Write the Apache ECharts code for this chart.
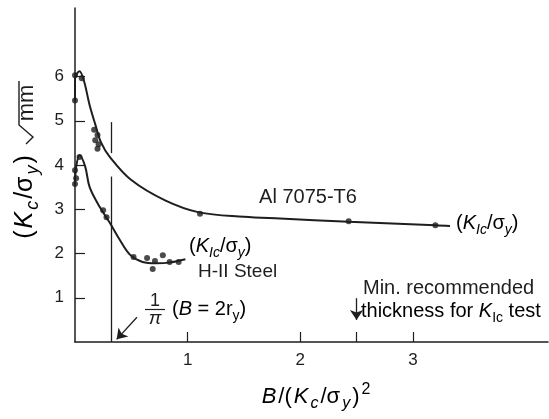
<!DOCTYPE html>
<html lang="en">
<head>
    <meta charset="UTF-8">
    <title>Kc vs thickness</title>
    <script src="https://cdn.jsdelivr.net/npm/echarts@6/dist/echarts.min.js"></script>
    <style>
        html, body { margin: 0; padding: 0; background: #fff; }
        #container { width: 549px; height: 419px; }
    </style>
</head>
<body>
<div id="container"></div>
<script type="text/javascript">
    // curves (x = B/(Kc/sy)^2, y = Kc/sy in sqrt(mm))
    let alCurve = [[0,5.45],[0,5.95],[0.04,6.12],[0.08,5.9],[0.13,5.35],[0.18,4.92],[0.23,4.52],[0.31,4.18],
        [0.5,3.66],[0.8,3.2],[1.1,2.93],[1.5,2.83],[1.82,2.79],[2.43,2.72],[3.2,2.64],[3.33,2.62]];
    let alPoints = [[0,5.46],[0,6.03],[0.06,5.96],[0.17,4.8],[0.2,4.68],[0.18,4.56],[0.21,4.47],[0.2,4.37],
        [1.11,2.9],[2.43,2.73],[3.2,2.64]];
    let steelCurve = [[0,3.55],[0.01,3.95],[0.04,4.22],[0.09,3.97],[0.13,3.5],[0.22,3.05],[0.31,2.69],[0.4,2.3],
        [0.49,1.97],[0.6,1.81],[0.72,1.78],[0.85,1.8],[0.98,1.87]];
    let steelPoints = [[0,3.88],[0.01,3.7],[0,3.57],[0.04,4.18],[0.25,2.98],[0.28,2.82],[0.52,1.92],[0.64,1.9],
        [0.71,1.83],[0.69,1.65],[0.78,1.96],[0.84,1.81],[0.92,1.81]];

    let xTicks = [1, 2, 2.5, 3];
    let xLabels = [1, 2, 3];
    let yTicks = [1, 2, 3, 4, 5, 6];

    // annotation lines
    let invPi = 1 / Math.PI;
    let piLineTop = [[invPi, 4.97], [invPi, 4.27]];
    let piLineBottom = [[invPi, 3.74], [invPi, 0]];
    let piArrow = [[0.55, 0.56], [0.37, 0.06]];
    let minArrow = [[2.5, 0.99], [2.5, 0.5]];

    const FONT = 'Liberation Sans, Arial, sans-serif';
    const INK = '#1e1e1e';

    function sub(size, gap) {
        let s = Math.round(size * 0.72);
        let pad = [0, gap || 0, 0, gap || 0];
        return {
            i: { fontFamily: FONT, fontSize: size, fontStyle: 'italic', color: INK, lineHeight: size + 8, padding: pad },
            n: { fontFamily: FONT, fontSize: size, color: INK, lineHeight: size + 8, padding: pad },
            si: { fontFamily: FONT, fontSize: s, fontStyle: 'italic', color: INK, verticalAlign: 'bottom', lineHeight: s, padding: pad },
            sn: { fontFamily: FONT, fontSize: s, color: INK, verticalAlign: 'bottom', lineHeight: s, padding: pad },
            sup: { fontFamily: FONT, fontSize: s, color: INK, verticalAlign: 'top', lineHeight: s, padding: pad }
        };
    }
    const kicText = '{n|(}{i|K}{si|Ic}{n|/σ}{si|y}{n|)}';

    let dom = document.getElementById("container");
    let myChart = echarts.init(dom);

    let option = {
        animation: false,
        grid: { left: 75, right: 1, top: 8, bottom: 77, outerBoundsMode: 'none' },
        xAxis: {
            type: 'value',
            min: 0,
            max: 4.2,
            axisLine: { lineStyle: { color: INK, width: 1.5 } },
            axisTick: { inside: true, length: 10, customValues: xTicks, lineStyle: { color: INK, width: 1.2 } },
            axisLabel: { customValues: xLabels, color: INK, fontFamily: FONT, fontSize: 17, margin: 10 },
            splitLine: { show: false }
        },
        yAxis: {
            type: 'value',
            min: 0,
            max: 7.55,
            axisLine: { show: true, lineStyle: { color: INK, width: 1.5 } },
            axisTick: { show: true, inside: true, length: 10, customValues: yTicks, lineStyle: { color: INK, width: 1.2 } },
            axisLabel: { customValues: yTicks, color: INK, fontFamily: FONT, fontSize: 17, margin: 11 },
            splitLine: { show: false }
        },
        graphic: [
            // y axis title, written bottom to top
            { type: 'text', x: 25, y: 197, rotation: Math.PI / 2,
              style: { text: '{n|(}{i|K}{si|c}{n|/σ}{si|y}{n|)}', rich: sub(25, 1), align: 'center', verticalAlign: 'middle' } },
            { type: 'text', x: 26.5, y: 103, rotation: Math.PI / 2,
              style: { text: 'mm', fontFamily: FONT, fontSize: 22, fill: INK, align: 'center', verticalAlign: 'middle' } },
            { type: 'polyline', shape: { points: [[26, 144], [28, 142], [33, 137], [19, 125], [19, 81]] },
              style: { stroke: INK, lineWidth: 1.4, fill: null } },
            { type: 'text', x: 316, y: 397,
              style: { text: '{i|B}{n|/(}{i|K}{si|c}{n|/σ}{si|y}{n|)}{sup|2}', rich: sub(22, 1), align: 'center', verticalAlign: 'middle' } },
            { type: 'text', x: 308, y: 197,
              style: { text: 'Al 7075-T6', fontFamily: FONT, fontSize: 20, fill: INK, align: 'center', verticalAlign: 'middle' } },
            { type: 'text', x: 456, y: 223,
              style: { text: kicText, rich: sub(20), align: 'left', verticalAlign: 'middle' } },
            { type: 'text', x: 189, y: 246,
              style: { text: kicText, rich: sub(20), align: 'left', verticalAlign: 'middle' } },
            { type: 'text', x: 198, y: 272,
              style: { text: 'H-II Steel', fontFamily: FONT, fontSize: 19, fill: INK, align: 'left', verticalAlign: 'middle' } },
            { type: 'text', x: 155, y: 301,
              style: { text: '1', fontFamily: FONT, fontSize: 18, fill: INK, align: 'center', verticalAlign: 'middle' } },
            { type: 'line', shape: { x1: 145, y1: 309.5, x2: 165, y2: 309.5 }, style: { stroke: INK, lineWidth: 1.2 } },
            { type: 'text', x: 155, y: 319,
              style: { text: 'π', fontFamily: FONT, fontSize: 19, fontStyle: 'italic', fill: INK, align: 'center', verticalAlign: 'middle' } },
            { type: 'text', x: 172, y: 309,
              style: { text: '{n|(}{i|B}{n| = 2r}{sn|y}{n|)}', rich: sub(20), align: 'left', verticalAlign: 'middle' } },
            { type: 'text', x: 363, y: 288,
              style: { text: 'Min. recommended', fontFamily: FONT, fontSize: 20, fill: INK, align: 'left', verticalAlign: 'middle' } },
            { type: 'text', x: 361, y: 311,
              style: { text: '{n|thickness for }{i|K}{sn|Ic}{n| test}', rich: sub(20), align: 'left', verticalAlign: 'middle' } }
        ],
        series: [
            {
                name: 'Al 7075-T6',
                type: 'line',
                data: alCurve,
                smooth: 0.35,
                showSymbol: false,
                lineStyle: { color: INK, width: 2 },
                markLine: {
                    silent: true,
                    symbol: ['none', 'none'],
                    label: { show: false },
                    lineStyle: { color: INK, width: 1.3, type: 'solid' },
                    data: [
                        [{ coord: piLineTop[0] }, { coord: piLineTop[1] }],
                        [{ coord: piLineBottom[0] }, { coord: piLineBottom[1] }],
                        [{ coord: piArrow[0], symbol: 'none' }, { coord: piArrow[1], symbol: 'arrow', symbolSize: 10 }],
                        [{ coord: minArrow[0], symbol: 'none' }, { coord: minArrow[1], symbol: 'arrow', symbolSize: 10 }]
                    ]
                }
            },
            {
                name: 'H-II Steel',
                type: 'line',
                data: steelCurve,
                smooth: 0.35,
                showSymbol: false,
                lineStyle: { color: INK, width: 2 }
            },
            {
                type: 'scatter',
                data: alPoints,
                symbolSize: 6,
                itemStyle: { color: INK }
            },
            {
                type: 'scatter',
                data: steelPoints,
                symbolSize: 6,
                itemStyle: { color: INK }
            }
        ]
    };
    myChart.setOption(option);
</script>
</body>
</html>
